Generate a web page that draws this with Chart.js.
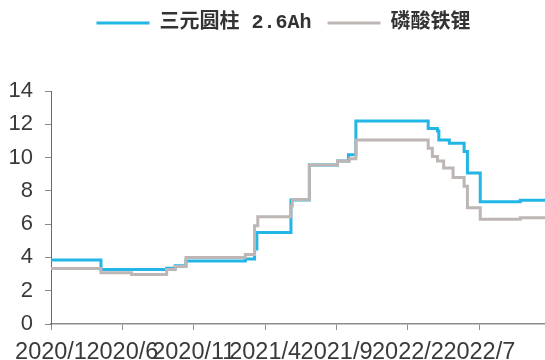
<!DOCTYPE html>
<html>
<head>
<meta charset="utf-8">
<script src="https://cdn.jsdelivr.net/npm/chart.js@4.4.1/dist/chart.umd.min.js"></script>
<style>
  html, body { margin: 0; padding: 0; background: #fff; }
  #wrap { width: 545px; height: 360px; }
</style>
</head>
<body>
<div id="wrap"><canvas id="c" width="545" height="360"></canvas></div>
<script>
// Price steps: each value holds from its date until the next date.
const cylDates = [
  '2020-01-01', '2020-04-16', '2020-09-04', '2020-09-22', '2020-10-15',
  '2021-02-18', '2021-03-09', '2021-03-14', '2021-05-26', '2021-07-04',
  '2021-09-03', '2021-09-26', '2021-10-12', '2022-03-14', '2022-04-03',
  '2022-04-06', '2022-04-28', '2022-05-30', '2022-06-06', '2022-07-03',
  '2022-09-27', '2022-11-19'
];
const cylValues = [
  3.85, 3.27, 3.35, 3.50, 3.78,
  3.90, 4.50, 5.50, 7.45, 9.55,
  9.80, 10.17, 12.20, 11.75, 11.60,
  11.06, 10.86, 10.36, 9.07, 7.34,
  7.43, 7.43
];

const lfpDates = [
  '2020-01-01', '2020-04-16', '2020-06-20', '2020-09-04', '2020-09-22',
  '2020-10-15', '2021-02-18', '2021-03-09', '2021-03-16', '2021-05-26',
  '2021-05-29', '2021-07-04', '2021-09-03', '2021-09-28', '2021-10-12',
  '2022-03-14', '2022-03-23', '2022-04-03', '2022-04-16', '2022-05-06',
  '2022-05-30', '2022-06-06', '2022-07-03', '2022-09-27', '2022-11-19'
];
const lfpValues = [
  3.33, 3.08, 2.98, 3.28, 3.45,
  4.00, 4.17, 5.90, 6.45, 7.10,
  7.48, 9.55, 9.80, 9.93, 11.06,
  10.56, 10.07, 9.80, 9.37, 8.81,
  8.28, 6.99, 6.30, 6.39, 6.39
];

const seriesNames = ['三元圆柱 2.6Ah', '磷酸铁锂'];
const tickLabels = ['2020/1', '2020/6', '2020/11', '2021/4', '2021/9', '2022/2', '2022/7'];
const yTicks = [0, 2, 4, 6, 8, 10, 12, 14];

// Months elapsed since 2020/1, fractional within a month.
function monthPos(dateStr) {
  const [y, m, d] = dateStr.split('-').map(Number);
  const days = new Date(y, m, 0).getDate();
  return (y - 2020) * 12 + (m - 1) + (d - 1) / days;
}
function labelPos(label) {
  const [y, m] = label.split('/').map(Number);
  return (y - 2020) * 12 + (m - 1);
}
const toPoints = (dates, values) => dates.map((d, i) => ({ x: monthPos(d), y: values[i] }));

const yFont = { family: '"Liberation Sans", Arial, sans-serif', size: 22 };
const xFont = { family: '"Liberation Sans", Arial, sans-serif', size: 23.5 };

// Taller legend band above the plot, with the legend nudged right.
const legendBand = {
  id: 'legendBand',
  beforeInit(chart) {
    const fit = chart.legend.fit;
    chart.legend.fit = function () {
      fit.call(this);
      this.height = 91;
    };
  },
  afterLayout(chart) {
    chart.legend.left += 22;
    chart.legend.top -= 3;
  }
};

new Chart(document.getElementById('c'), {
  type: 'line',
  data: {
    datasets: [
      {
        label: seriesNames[0],
        data: toPoints(cylDates, cylValues),
        borderColor: '#22b6e6',
        backgroundColor: '#22b6e6',
        borderWidth: 3,
        stepped: true,
        pointRadius: 0,
        order: 1
      },
      {
        label: seriesNames[1],
        data: toPoints(lfpDates, lfpValues),
        borderColor: '#bdb6b4',
        backgroundColor: '#bdb6b4',
        borderWidth: 3,
        stepped: true,
        pointRadius: 0,
        order: 0
      }
    ]
  },
  options: {
    responsive: false,
    animation: false,
    layout: { padding: { left: 0, right: 0, top: 0, bottom: 0 } },
    plugins: {
      tooltip: { enabled: false },
      legend: {
        position: 'top',
        align: 'center',
        labels: {
          sort: (a, b) => a.datasetIndex - b.datasetIndex,
          generateLabels: (chart) =>
            Chart.defaults.plugins.legend.labels.generateLabels(chart)
              .map(item => Object.assign(item, { lineWidth: 0 })),
          boxWidth: 53,
          boxHeight: 3,
          padding: 16,
          color: '#333333',
          font: { family: '"Liberation Mono", "Noto Sans CJK SC", monospace', size: 20, weight: 'bold' }
        }
      }
    },
    scales: {
      x: {
        type: 'linear',
        min: 0,
        max: monthPos(cylDates[cylDates.length - 1]),
        afterBuildTicks(scale) {
          scale.ticks = tickLabels.map(l => ({ value: labelPos(l) }));
        },
        afterFit(scale) { scale.height = 36; },
        ticks: {
          autoSkip: false,
          maxRotation: 0,
          minRotation: 0,
          padding: 8,
          color: '#3a3a3a',
          font: xFont,
          callback: (v) => tickLabels.find(l => labelPos(l) === v) || ''
        },
        grid: { drawOnChartArea: false, drawTicks: true, tickLength: 6, color: '#8c8c8c', lineWidth: 1 },
        border: { display: true, color: '#8c8c8c', width: 1.5 }
      },
      y: {
        min: 0,
        max: 14,
        afterBuildTicks(scale) {
          scale.ticks = yTicks.map(v => ({ value: v }));
        },
        afterFit(scale) { scale.width = 51; },
        ticks: {
          padding: 12,
          color: '#3a3a3a',
          font: yFont
        },
        grid: { drawOnChartArea: false, drawTicks: true, tickLength: 6, color: '#8c8c8c', lineWidth: 1 },
        border: { display: true, color: '#6a6a6a', width: 1 }
      }
    }
  },
  plugins: [legendBand]
});
</script>
</body>
</html>
